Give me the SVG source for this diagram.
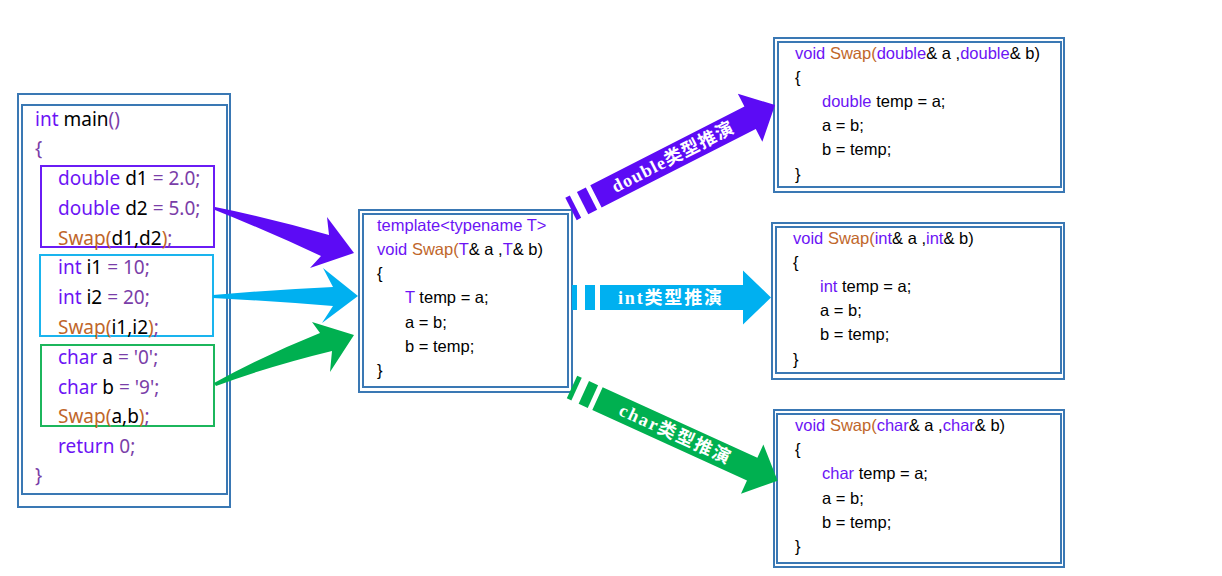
<svg xmlns="http://www.w3.org/2000/svg" width="1222" height="576" viewBox="0 0 1222 576">
<style>
.frame{fill:none;stroke:#3a78b4;stroke-width:2}
.main{font-family:"Noto Sans","Open Sans",sans-serif;font-size:19px;fill:#000}
.code{font-family:"Liberation Sans",Arial,sans-serif;font-size:16.5px;fill:#000}
.kw{fill:#6c14f5}
.op{fill:#7a3ea8}
.fn{fill:#c0662a}
.lbl{font-family:"Liberation Serif","Noto Sans CJK SC",serif;font-size:18px;font-weight:600;fill:#fff}
</style>
<rect width="1222" height="576" fill="#fff"/>

<g id="main-node">
  <rect class="frame" x="18" y="94" width="212" height="413"/>
  <rect class="frame" x="22" y="105" width="205" height="389"/>
  <rect x="41" y="166" width="173" height="81" fill="none" stroke="#6a1cf5" stroke-width="2"/>
  <rect x="40" y="255" width="173" height="81" fill="none" stroke="#1ab4ee" stroke-width="2"/>
  <rect x="41" y="345" width="173" height="81" fill="none" stroke="#1cb65c" stroke-width="2"/>
  <text class="main" x="35" y="126"><tspan class="kw">int</tspan> main<tspan class="op">()</tspan></text>
  <text class="main op" x="35" y="155">{</text>
  <text class="main" x="58" y="185"><tspan class="kw">double</tspan> d1 <tspan class="op">= 2.0;</tspan></text>
  <text class="main" x="58" y="215"><tspan class="kw">double</tspan> d2 <tspan class="op">= 5.0;</tspan></text>
  <text class="main" x="58" y="245"><tspan class="fn">Swap(</tspan>d1,d2<tspan class="fn">)</tspan><tspan class="op">;</tspan></text>
  <text class="main" x="58" y="274"><tspan class="kw">int</tspan> i1 <tspan class="op">= 10;</tspan></text>
  <text class="main" x="58" y="304"><tspan class="kw">int</tspan> i2 <tspan class="op">= 20;</tspan></text>
  <text class="main" x="58" y="334"><tspan class="fn">Swap(</tspan>i1,i2<tspan class="fn">)</tspan><tspan class="op">;</tspan></text>
  <text class="main" x="58" y="364"><tspan class="kw">char</tspan> a <tspan class="op">= '0';</tspan></text>
  <text class="main" x="58" y="394"><tspan class="kw">char</tspan> b <tspan class="op">= '9';</tspan></text>
  <text class="main" x="58" y="423"><tspan class="fn">Swap(</tspan>a,b<tspan class="fn">)</tspan><tspan class="op">;</tspan></text>
  <text class="main" x="58" y="453"><tspan class="kw">return</tspan> <tspan class="op">0;</tspan></text>
  <text class="main op" x="35" y="482">}</text>
</g>

<g id="template-node">
  <rect class="frame" x="359" y="210" width="213" height="182"/>
  <rect class="frame" x="363" y="214" width="205" height="173"/>
  <text class="code" x="377" y="231"><tspan class="kw">template&lt;typename T&gt;</tspan></text>
  <text class="code" x="377" y="255"><tspan class="kw">void</tspan> <tspan class="fn">Swap(</tspan><tspan class="kw">T</tspan>&amp; a ,<tspan class="kw">T</tspan>&amp; b)</text>
  <text class="code" x="377" y="279">{</text>
  <text class="code" x="405" y="303"><tspan class="kw">T</tspan> temp = a;</text>
  <text class="code" x="405" y="328">a = b;</text>
  <text class="code" x="405" y="352">b = temp;</text>
  <text class="code" x="377" y="376">}</text>
</g>

<g id="double-node">
  <rect class="frame" x="774" y="38" width="290" height="154"/>
  <rect class="frame" x="778" y="42" width="283" height="145"/>
  <text class="code" x="795" y="59"><tspan class="kw">void</tspan> <tspan class="fn">Swap(</tspan><tspan class="kw">double</tspan>&amp; a ,<tspan class="kw">double</tspan>&amp; b)</text>
  <text class="code" x="795" y="83">{</text>
  <text class="code" x="822" y="107"><tspan class="kw">double</tspan> temp = a;</text>
  <text class="code" x="822" y="131">a = b;</text>
  <text class="code" x="822" y="155">b = temp;</text>
  <text class="code" x="795" y="180">}</text>
</g>

<g id="int-node">
  <rect class="frame" x="772" y="223" width="292" height="156"/>
  <rect class="frame" x="776" y="227" width="285" height="146"/>
  <text class="code" x="793" y="244"><tspan class="kw">void</tspan> <tspan class="fn">Swap(</tspan><tspan class="kw">int</tspan>&amp; a ,<tspan class="kw">int</tspan>&amp; b)</text>
  <text class="code" x="793" y="268">{</text>
  <text class="code" x="820" y="292"><tspan class="kw">int</tspan> temp = a;</text>
  <text class="code" x="820" y="316">a = b;</text>
  <text class="code" x="820" y="340">b = temp;</text>
  <text class="code" x="793" y="365">}</text>
</g>

<g id="char-node">
  <rect class="frame" x="774" y="410" width="290" height="157"/>
  <rect class="frame" x="777" y="414" width="284" height="149"/>
  <text class="code" x="795" y="431"><tspan class="kw">void</tspan> <tspan class="fn">Swap(</tspan><tspan class="kw">char</tspan>&amp; a ,<tspan class="kw">char</tspan>&amp; b)</text>
  <text class="code" x="795" y="455">{</text>
  <text class="code" x="822" y="479"><tspan class="kw">char</tspan> temp = a;</text>
  <text class="code" x="822" y="504">a = b;</text>
  <text class="code" x="822" y="528">b = temp;</text>
  <text class="code" x="795" y="552">}</text>
</g>

<g id="connectors">
  <path d="M215,207 Q270,218 329,235 L327,217 L354,253 L310,268 L321,256 Q270,232 215,210 Z" fill="#5c0bf5"/>
  <path d="M213,295 Q270,290 333,287 L323,268 L358,296 L322,323 L333,306 Q270,301 213,298 Z" fill="#00b0f0"/>
  <path d="M214,383 Q265,355 320,333 L312,322 L354,335 L330,372 L332,351 Q270,366 216,386 Z" fill="#00b050"/>

  <g transform="translate(571,209) rotate(-27)" fill="#5c0bf5">
    <rect x="0" y="-12.5" width="5" height="25"/>
    <rect x="13" y="-12.5" width="10" height="25"/>
    <polygon points="28,-12.5 201,-12.5 201,-27 229,0 201,27 201,12.5 28,12.5"/>
    <text class="lbl" x="114" y="6" text-anchor="middle" textLength="134" lengthAdjust="spacing">double类型推演</text>
  </g>
  <g transform="translate(572,297.5)" fill="#00b0f0">
    <rect x="0" y="-12.5" width="5" height="25"/>
    <rect x="13" y="-12.5" width="10" height="25"/>
    <polygon points="28,-12.5 171,-12.5 171,-27 199,0 171,27 171,12.5 28,12.5"/>
    <text class="lbl" x="98" y="6" text-anchor="middle" textLength="104" lengthAdjust="spacing">int类型推演</text>
  </g>
  <g transform="translate(572,387) rotate(24.5)" fill="#00b050">
    <rect x="0" y="-12.5" width="5" height="25"/>
    <rect x="13" y="-12.5" width="10" height="25"/>
    <polygon points="28,-12.5 198,-12.5 198,-27 226,0 198,27 198,12.5 28,12.5"/>
    <text class="lbl" x="113" y="6" text-anchor="middle" textLength="120" lengthAdjust="spacing">char类型推演</text>
  </g>
</g>
</svg>
